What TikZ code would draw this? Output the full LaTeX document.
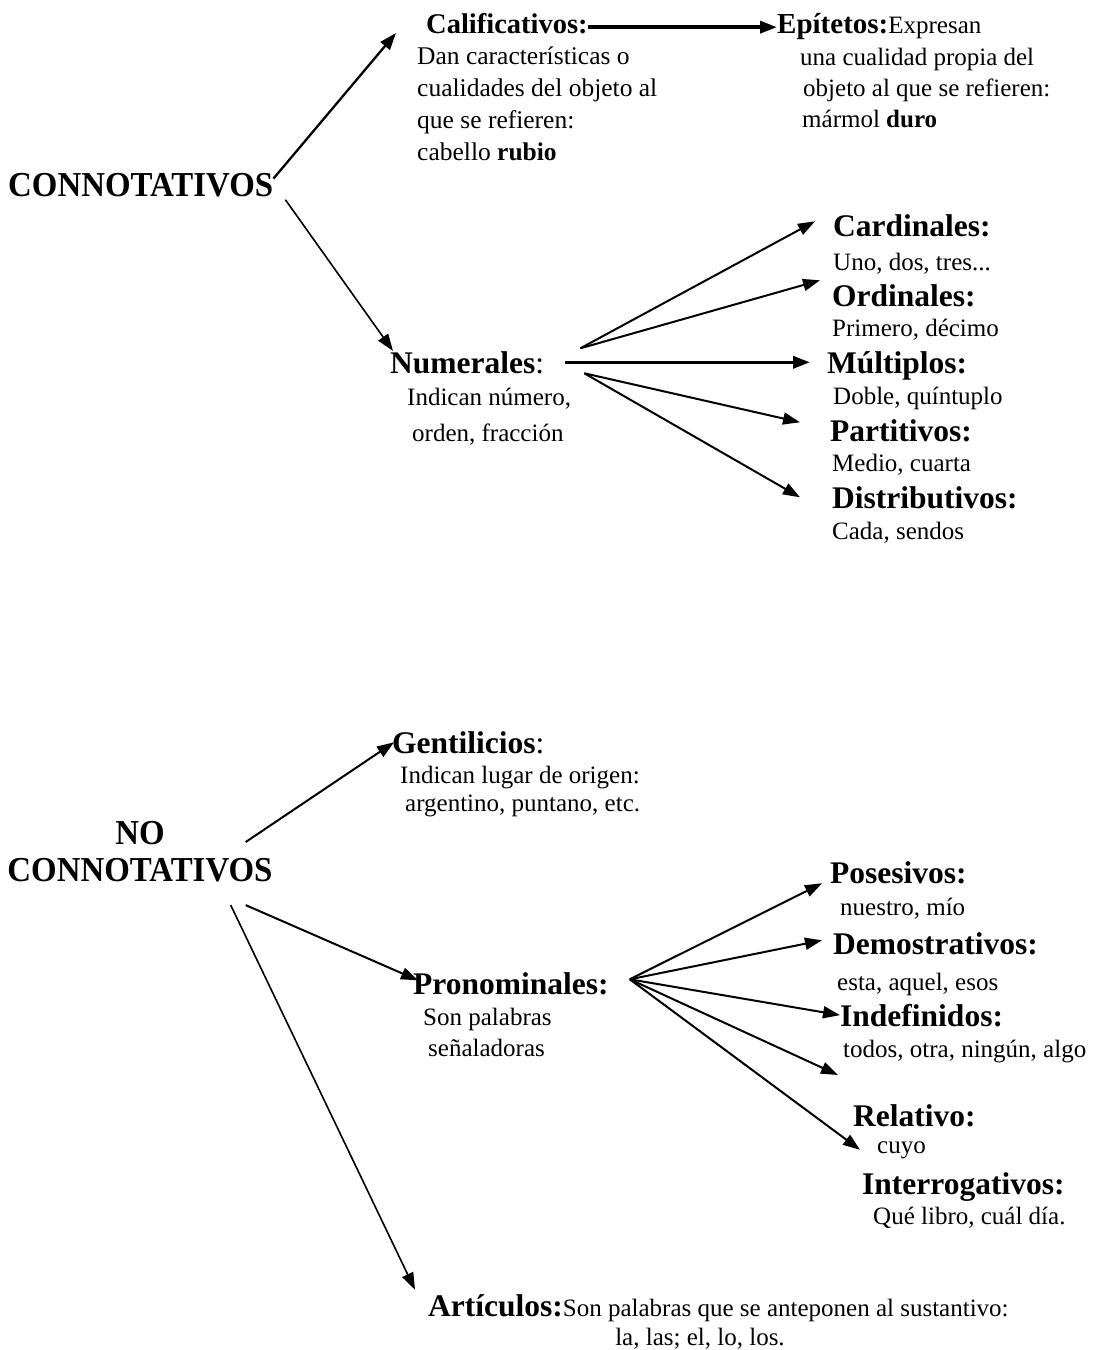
\documentclass[tikz,border=0pt]{standalone}
\usepackage{fontspec}
\setmainfont{Liberation Serif}
\newfontfamily\estrecha[FakeStretch=0.94]{Liberation Serif}
\usetikzlibrary{arrows.meta}

\tikzset{
  titulo/.style={anchor=base west, inner sep=0pt, font=\fontsize{31.5}{36}\selectfont\bfseries},
  cuerpo/.style={anchor=base west, inner sep=0pt, font=\fontsize{25}{32}\selectfont},
  bloque/.style={anchor=north west, inner sep=0pt, align=left},
  raiz/.style={inner sep=0pt, font=\estrecha\fontsize{35}{37}\selectfont\bfseries},
  flecha/.style={-{Triangle[length=17pt,width=12pt]}, line width=2pt},
  gruesa/.style={flecha, line width=3.5pt},
}

\begin{document}
\begin{tikzpicture}[x=1pt, y=-1pt]
    \useasboundingbox (0,0) rectangle (1106,1350);

    \node[raiz, anchor=base west] (con) at (8,196) {CONNOTATIVOS};

    \node[titulo, font=\fontsize{28.5}{36}\selectfont\bfseries] (calif) at (426,33) {Calificativos:};
    \node[bloque, font=\fontsize{25.5}{32}\selectfont] (califtxt) at (417,47) {Dan características o\\cualidades del objeto al\\que se refieren:\\cabello \textbf{rubio}};

    \node[titulo, font=\fontsize{29}{36}\selectfont\bfseries] (epit) at (777,33) {Epítetos:{\mdseries\fontsize{25}{32}\selectfont Expresan}};
    \node[bloque, font=\fontsize{25}{31}\selectfont] (epittxt) at (800,48) {una cualidad propia del\\\hspace*{3pt}objeto al que se refieren:\\\hspace*{2pt}mármol \textbf{duro}};

    \node[titulo] (num) at (390,373) {Numerales{\mdseries:}};
    \node[bloque, font=\fontsize{25}{36}\selectfont] (numtxt) at (407,388) {Indican número,\\\hspace*{5pt}orden, fracción};

    \node[titulo] (card) at (833,236) {Cardinales:};
    \node[cuerpo] (cardtxt) at (833,270) {Uno, dos, tres...};
    \node[titulo] (ord) at (832,306) {Ordinales:};
    \node[cuerpo] (ordtxt) at (832,336) {Primero, décimo};
    \node[titulo] (mult) at (827,373) {Múltiplos:};
    \node[cuerpo] (multtxt) at (833,404) {Doble, quíntuplo};
    \node[titulo] (part) at (830,441) {Partitivos:};
    \node[cuerpo] (parttxt) at (832,471) {Medio, cuarta};
    \node[titulo] (dist) at (832,508) {Distributivos:};
    \node[cuerpo] (disttxt) at (832,539) {Cada, sendos};

    \draw[flecha, line width=2.3pt] ([yshift=-6pt]con.north east) -- ([xshift=-30pt]calif.base west);
    \draw[flecha, line width=1.6pt] ([xshift=12pt,yshift=-3pt]con.south east) -- ([xshift=3pt]num.north west);
    \draw[gruesa] ([yshift=-4pt]calif.east) -- ([yshift=-4pt]calif.east -| epit.west);

    \draw[flecha] ([xshift=36pt,yshift=14pt]num.east) -- ([xshift=-18pt,yshift=4pt]card.west);
    \draw[flecha] ([xshift=36pt,yshift=14pt]num.east) -- ([xshift=-12pt,yshift=15pt]ord.west);
    \draw[gruesa] ([xshift=21pt]num.east) -- ([xshift=-17pt]num.east -| mult.west);
    \draw[flecha] ([xshift=40pt,yshift=-11pt]num.east) -- ([xshift=-30pt,yshift=8pt]part.west);
    \draw[flecha] ([xshift=40pt,yshift=-11pt]num.east) -- ([xshift=-32pt]dist.west);

    \node[raiz, anchor=north, align=center] (noc) at (140,821) {NO\\CONNOTATIVOS};

    \node[titulo] (gent) at (392,753) {Gentilicios{\mdseries:}};
    \node[bloque, font=\fontsize{25}{28}\selectfont] (genttxt) at (400,766) {Indican lugar de origen:\\\hspace*{5pt}argentino, puntano, etc.};

    \node[titulo] (pron) at (413,994) {Pronominales:};
    \node[bloque, font=\fontsize{25}{31}\selectfont] (prontxt) at (423,1008) {Son palabras\\\hspace*{5pt}señaladoras};

    \node[titulo] (pos) at (830,883) {Posesivos:};
    \node[cuerpo] (postxt) at (840,915) {nuestro, mío};
    \node[titulo] (dem) at (833,954) {Demostrativos:};
    \node[cuerpo] (demtxt) at (837,990) {esta, aquel, esos};
    \node[titulo] (ind) at (840,1026) {Indefinidos:};
    \node[cuerpo] (indtxt) at (843,1057) {todos, otra, ningún, algo};
    \coordinate (vacio) at (838,1075);
    \node[titulo] (rel) at (853,1126) {Relativo:};
    \node[cuerpo] (reltxt) at (877,1153) {cuyo};
    \node[titulo] (inte) at (862,1194) {Interrogativos:};
    \node[cuerpo] (intetxt) at (873,1224) {Qué libro, cuál día.};

    \node[titulo] (art) at (428,1316) {Artículos:{\mdseries\fontsize{25}{32}\selectfont Son palabras que se anteponen al sustantivo:}};
    \node[cuerpo, anchor=base] (arttxt) at (700,1345) {la, las; el, lo, los.};

    \draw[flecha] ([xshift=-27pt,yshift=-21pt]noc.north east) -- ([xshift=2pt]gent.west);
    \draw[flecha] ([xshift=-27pt,yshift=-23pt]noc.south east) -- ([xshift=5pt,yshift=3pt]pron.west);
    \draw[flecha, line width=1.6pt] ([xshift=-42pt,yshift=-23pt]noc.south east) -- ([xshift=-13pt,yshift=18pt]art.west);

    \draw[flecha] ([xshift=21pt,yshift=4pt]pron.east) -- ([xshift=-8pt,yshift=-11pt]pos.west);
    \draw[flecha] ([xshift=21pt,yshift=4pt]pron.east) -- ([xshift=-11pt,yshift=3pt]dem.west);
    \draw[flecha] ([xshift=21pt,yshift=4pt]pron.east) -- (ind.west);
    \draw[flecha] ([xshift=21pt,yshift=4pt]pron.east) -- (vacio);
    \draw[flecha] ([xshift=21pt,yshift=4pt]pron.east) -- ([xshift=-17pt]reltxt.west);
\end{tikzpicture}
\end{document}
